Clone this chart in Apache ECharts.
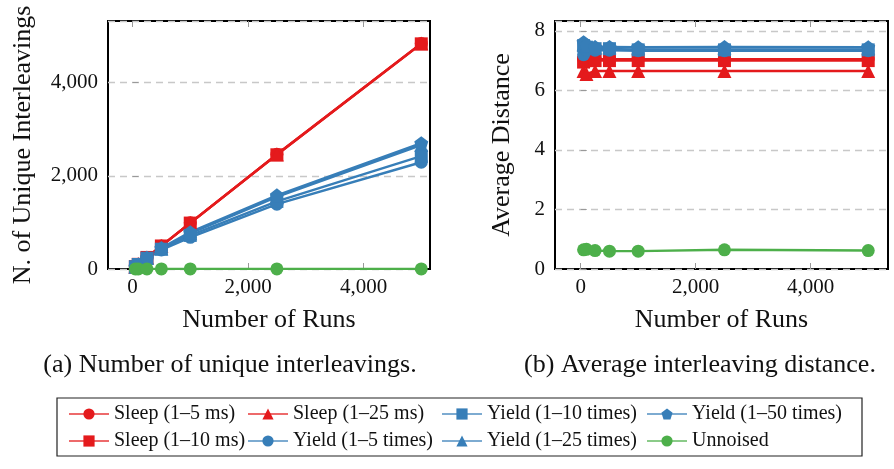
<!DOCTYPE html>
<html>
<head>
<meta charset="utf-8">
<script src="https://cdn.jsdelivr.net/npm/echarts@6/dist/echarts.min.js"></script>
<style>
html,body{margin:0;padding:0;background:#fff;}
#chart{width:894px;height:469px;}
</style>
</head>
<body>
<div id="chart"></div>
<script>
// ---- data ----
const runs = [50, 100, 250, 500, 1000, 2500, 5000];
const seriesNames = ['Sleep (1–5 ms)', 'Sleep (1–10 ms)', 'Sleep (1–25 ms)',
  'Yield (1–5 times)', 'Yield (1–10 times)', 'Yield (1–25 times)', 'Yield (1–50 times)', 'Unnoised'];

// (a) number of unique interleavings
const uniqSleep5   = [50, 100, 249, 496, 990, 2460, 4840];
const uniqSleep10  = [50, 100, 248, 494, 985, 2450, 4830];
const uniqSleep25  = [50, 100, 249, 495, 988, 2455, 4835];
const uniqYield5   = [48, 95, 225, 410, 680, 1390, 2290];
const uniqYield10  = [49, 97, 232, 425, 720, 1450, 2420];
const uniqYield25  = [50, 98, 238, 440, 765, 1545, 2660];
const uniqYield50  = [50, 99, 242, 448, 790, 1580, 2700];
const uniqUnnoised = [2, 2, 2, 2, 2, 2, 2];

// (b) average interleaving distance
const distSleep5   = [7.05, 7.05, 7.05, 7.05, 7.05, 7.05, 7.05];
const distSleep10  = [6.95, 7.0, 7.0, 7.0, 7.0, 7.0, 7.0];
const distSleep25  = [6.65, 6.55, 6.65, 6.65, 6.65, 6.65, 6.65];
const distYield5   = [7.2, 7.35, 7.35, 7.35, 7.33, 7.33, 7.33];
const distYield10  = [7.5, 7.45, 7.4, 7.4, 7.36, 7.36, 7.36];
const distYield25  = [7.55, 7.5, 7.45, 7.45, 7.44, 7.44, 7.44];
const distYield50  = [7.62, 7.52, 7.46, 7.46, 7.45, 7.46, 7.45];
const distUnnoised = [0.645, 0.66, 0.62, 0.6, 0.6, 0.645, 0.62];

const uniqTicks = [0, 2000, 4000];
const distTicks = [0, 2, 4, 6, 8];
const runTicks = [0, 2000, 4000];

// ---- styles ----
const RED = '#e41a1c', BLUE = '#377eb8', GREEN = '#4daf4a';
const PENT = 'path://M0,-1 L0.951,-0.309 L0.588,0.809 L-0.588,0.809 L-0.951,-0.309 Z';
const styleOf = [
  {c: RED, s: 'circle', z: 13},
  {c: RED, s: 'rect', z: 13},
  {c: RED, s: 'triangle', z: 14},
  {c: BLUE, s: 'circle', z: 13},
  {c: BLUE, s: 'rect', z: 13},
  {c: BLUE, s: 'triangle', z: 14},
  {c: BLUE, s: PENT, z: 14},
  {c: GREEN, s: 'circle', z: 13}
];
const FONT = '"Liberation Serif", "DejaVu Serif", serif';

const uniqAll = [uniqSleep5, uniqSleep10, uniqSleep25, uniqYield5, uniqYield10, uniqYield25, uniqYield50, uniqUnnoised];
const distAll = [distSleep5, distSleep10, distSleep25, distYield5, distYield10, distYield25, distYield50, distUnnoised];

function mkSeries(vals, gi) {
  return vals.map((v, i) => ({
    name: seriesNames[i],
    type: 'line',
    xAxisIndex: gi * 2,
    yAxisIndex: gi,
    data: runs.map((x, k) => [x, v[k]]),
    symbol: styleOf[i].s,
    symbolSize: styleOf[i].z,
    showAllSymbol: true,
    lineStyle: {color: styleOf[i].c, width: 2.4},
    itemStyle: {color: styleOf[i].c},
    emphasis: {disabled: true},
    animation: false
  }));
}

const fmtThousands = v => String(v).replace(/\B(?=(\d{3})+(?!\d))/g, ',');

function xAxes(gi, min, max) {
  return [{
    type: 'value', gridIndex: gi, min: min, max: max, position: 'bottom',
    name: 'Number of Runs', nameLocation: 'middle', nameGap: 38,
    nameTextStyle: {fontFamily: FONT, fontSize: 26, color: '#111'},
    axisLine: {show: false},
    axisTick: {show: true, inside: true, length: 6, customValues: runTicks, lineStyle: {color: '#999', width: 1}},
    axisLabel: {customValues: runTicks, formatter: fmtThousands, fontFamily: FONT, fontSize: 21, color: '#111', margin: 8},
    splitLine: {show: false}
  }, {
    type: 'value', gridIndex: gi, min: min, max: max, position: 'top',
    axisLine: {show: false},
    axisTick: {show: true, inside: true, length: 6, customValues: runTicks, lineStyle: {color: '#999', width: 1}},
    axisLabel: {show: false},
    splitLine: {show: false}
  }];
}

function yAxis(gi, max, interval, name, gap) {
  return {
    type: 'value', gridIndex: gi, min: 0, max: max, interval: interval,
    name: name, nameLocation: 'middle', nameGap: gap,
    nameTextStyle: {fontFamily: FONT, fontSize: 26, color: '#111'},
    axisLine: {show: false},
    axisTick: {show: true, inside: true, length: 6, lineStyle: {color: '#999', width: 1}},
    axisLabel: {formatter: fmtThousands, fontFamily: FONT, fontSize: 21, color: '#111', margin: 10,
      showMaxLabel: false},
    splitLine: {show: true, lineStyle: {color: '#c8c8c8', width: 1.3, type: [7, 5]}}
  };
}

// legend layout: two rows x four columns
const legendIconLeft = [68, 247, 441, 646];
const legendTextWidth = [127, 144, 156, 164];
const legendRowTop = [402, 429];
const legendPlacement = [[0,0],[1,0],[0,1],[1,1],[0,2],[1,2],[0,3],[1,3]]; // [row, col] per series

const legends = seriesNames.map((n, i) => {
  const [r, c] = legendPlacement[i];
  return {
    data: [n], left: legendIconLeft[c], top: legendRowTop[r], padding: 0,
    orient: 'horizontal', itemWidth: 40, itemHeight: 14, itemGap: 0,
    selectedMode: false,
    lineStyle: {width: 2, opacity: 0.65},
    textStyle: {fontFamily: FONT, fontSize: 20, color: '#111', width: legendTextWidth[c], align: 'center', lineHeight: 24}
  };
});

const option = {
  backgroundColor: '#fff',
  animation: false,
  grid: [
    {left: 108, top: 21, width: 322, height: 248, show: true, borderColor: '#000', borderWidth: 2, backgroundColor: 'transparent'},
    {left: 555, top: 21, width: 333, height: 248, show: true, borderColor: '#000', borderWidth: 2, backgroundColor: 'transparent'}
  ],
  xAxis: [...xAxes(0, -424, 5151), ...xAxes(1, -447, 5344)],
  yAxis: [
    yAxis(0, 5320, 2000, 'N. of Unique Interleavings', 72),
    yAxis(1, 8.33, 2, 'Average Distance', 40)
  ],
  legend: legends,
  series: [...mkSeries(uniqAll, 0), ...mkSeries(distAll, 1)],
  graphic: [
    {type: 'text', x: 230, y: 365, silent: true,
      style: {text: '(a) Number of unique interleavings.', font: '26px ' + FONT, fill: '#111', textAlign: 'center', textVerticalAlign: 'middle'}},
    {type: 'text', x: 700, y: 365, silent: true,
      style: {text: '(b) Average interleaving distance.', font: '26px ' + FONT, fill: '#111', textAlign: 'center', textVerticalAlign: 'middle'}},
    {type: 'rect', shape: {x: 57, y: 398, width: 805, height: 58}, silent: true,
      style: {fill: 'none', stroke: '#222', lineWidth: 1.2}}
  ]
};

const chart = echarts.init(document.getElementById('chart'), null, {renderer: 'canvas'});
chart.setOption(option);
</script>
</body>
</html>
